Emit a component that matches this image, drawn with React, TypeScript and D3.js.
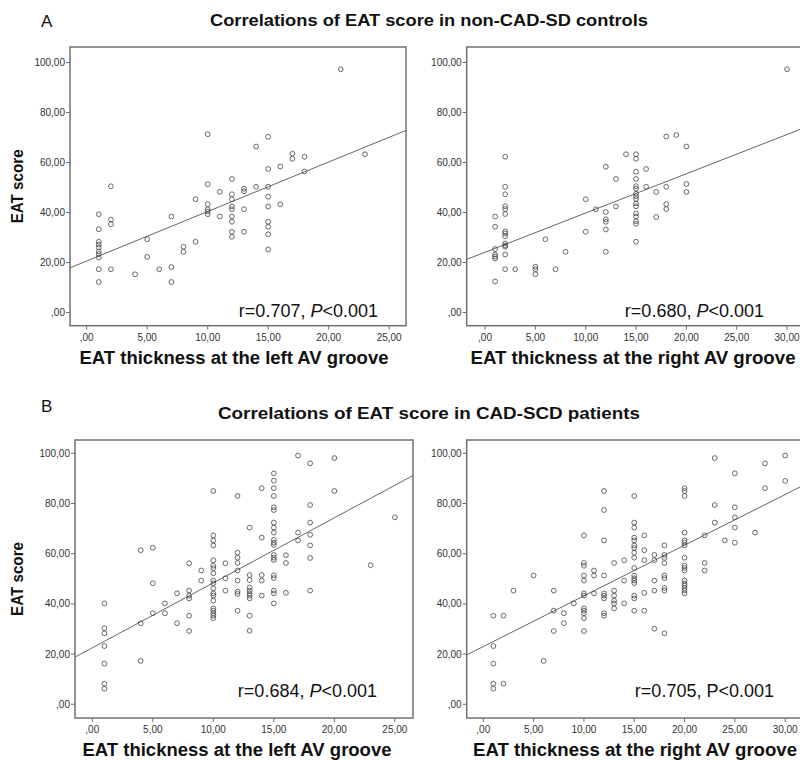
import React from 'react'
import * as d3 from 'd3'

// ticks shared by all four scatter panels
const yTicks = [0, 20, 40, 60, 80, 100]
const xTicksLeft = [0, 5, 10, 15, 20, 25]
const xTicksRight = [0, 5, 10, 15, 20, 25, 30]
const fmt = (v: number) => (v === 0 ? '' : String(v)) + ',00'

// [EAT thickness, EAT score]  -- non-CAD-SD controls, left AV groove
const ctrlLeft = [
  [1, 39.3], [1, 33.3], [1, 28.3], [1, 27.2], [1, 26], [1, 24.4], [1, 23.4], [1, 22], [1, 17.3], [1, 12.2],
  [2, 50.5], [2, 37.2], [2, 35.3], [2, 17.3],
  [4, 15.3], [5, 29.3], [5, 22.2], [6, 17.3], [7, 38.4], [7, 18.2], [7, 12.2], [8, 26.3], [8, 24.3], [9, 45.3], [9, 28.3],
  [10, 71.3], [10, 51.3], [10, 43.3], [10, 41.3], [10, 40.4], [10, 39.3], [11, 48.3], [11, 38.4],
  [12, 53.4], [12, 47.3], [12, 45.3], [12, 42.4], [12, 41.3], [12, 38.4], [12, 36.3], [12, 32.3], [12, 30.3],
  [13, 49.5], [13, 48.5], [13, 41.3], [13, 32.3], [14, 66.4], [14, 50.3],
  [15, 70.3], [15, 57.4], [15, 50.3], [15, 46.3], [15, 42.4], [15, 36.3], [15, 34.3], [15, 31.3], [15, 25.2],
  [16, 58.4], [16, 43.3], [17, 63.5], [17, 61.5], [18, 62.3], [18, 56.4], [21, 97.3], [23, 63.3]
]

// non-CAD-SD controls, right AV groove
const ctrlRight = [
  [1, 38.4], [1, 34.3], [1, 25.4], [1, 23.2], [1, 22.4], [1, 21.6], [1, 12.4],
  [2, 62.3], [2, 50.3], [2, 47.3], [2, 42.5], [2, 41.4], [2, 39.4], [2, 32.4], [2, 31.6], [2, 30.5], [2, 27.6],
  [2, 26.8], [2, 26.3], [2, 23.2], [2, 17.3],
  [3, 17.3], [5, 18.3], [5, 17.3], [5, 15.3], [6, 29.3], [7, 17.3], [8, 24.3], [10, 45.3], [10, 32.3], [11, 41.3],
  [12, 58.3], [12, 40.2], [12, 37.3], [12, 36.3], [12, 33.2], [12, 24.3], [13, 53.4], [13, 42.4], [14, 63.3],
  [15, 63.3], [15, 61.5], [15, 56.3], [15, 53.4], [15, 50.5], [15, 49.5], [15, 47.5], [15, 46.5], [15, 45.4],
  [15, 43.6], [15, 42.5], [15, 39.6], [15, 38.4], [15, 36.5], [15, 35.5], [15, 28.3],
  [16, 57.4], [16, 50.3], [17, 48.2], [17, 38.2], [18, 70.4], [18, 50.3], [18, 43.3], [18, 41.4], [19, 71.0],
  [20, 66.4], [20, 51.4], [20, 48.2], [30, 97.3]
]

// CAD-SCD patients, left AV groove
const patLeft = [
  [1, 40.2], [1, 30.3], [1, 28.3], [1, 23.2], [1, 16.2], [1, 8.2], [1, 6.2],
  [4, 61.4], [4, 32.3], [4, 17.3], [5, 62.4], [5, 48.2], [5, 36.3], [6, 40.2], [6, 36.3], [7, 44.2], [7, 32.3],
  [8, 56.2], [8, 45.3], [8, 43.3], [8, 42.2], [8, 35.3], [8, 29.2], [9, 53.3], [9, 49.3],
  [10, 85.0], [10, 67.3], [10, 65.3], [10, 63.3], [10, 57.4], [10, 55.2], [10, 54.2], [10, 52.2], [10, 49.3],
  [10, 48.2], [10, 46.2], [10, 44.2], [10, 43.3], [10, 41.3], [10, 38.2], [10, 37.3], [10, 36.3], [10, 35.3], [10, 34.3],
  [11, 56.2], [11, 50.2], [11, 45.3],
  [12, 83.0], [12, 60.4], [12, 58.4], [12, 56.3], [12, 53.3], [12, 49.3], [12, 44.9], [12, 44.0], [12, 37.3],
  [13, 70.4], [13, 51.5], [13, 49.5], [13, 46.5], [13, 45.3], [13, 44.2], [13, 43.3], [13, 42.2], [13, 35.3], [13, 29.3],
  [14, 86.1], [14, 66.4], [14, 51.5], [14, 49.3], [14, 43.3],
  [15, 92.0], [15, 89.1], [15, 86.1], [15, 83.0], [15, 78.5], [15, 77.4], [15, 72.4], [15, 70.4], [15, 68.4],
  [15, 65.5], [15, 64.4], [15, 63.5], [15, 59.5], [15, 58.4], [15, 57.5], [15, 51.4], [15, 50.3], [15, 45.3],
  [15, 44.2], [15, 40.2],
  [16, 59.4], [16, 56.3], [16, 44.4], [17, 99.1], [17, 68.4], [17, 65.3],
  [18, 96.0], [18, 79.4], [18, 72.4], [18, 67.5], [18, 63.3], [18, 58.3], [18, 45.3],
  [20, 98.1], [20, 85.0], [23, 55.4], [25, 74.5]
]

// CAD-SCD patients, right AV groove
const patRight = [
  [1, 35.3], [1, 23.2], [1, 16.2], [1, 8.2], [1, 6.2], [2, 35.3], [2, 8.2], [3, 45.3], [5, 51.3], [6, 17.3],
  [7, 45.3], [7, 37.3], [7, 29.2], [8, 36.3], [8, 32.3], [9, 40.2],
  [10, 67.3], [10, 56.3], [10, 55.2], [10, 51.3], [10, 49.3], [10, 44.2], [10, 43.3], [10, 38.2], [10, 37.3],
  [10, 36.3], [10, 34.3], [10, 29.2],
  [11, 53.3], [11, 51.3], [11, 44.2],
  [12, 85.0], [12, 77.4], [12, 65.3], [12, 51.3], [12, 44.2], [12, 43.3], [12, 42.2], [12, 36.3], [12, 35.3],
  [13, 56.3], [13, 45.3], [13, 43.3], [13, 41.3], [13, 40.2], [13, 38.2],
  [14, 57.4], [14, 49.3], [14, 40.2],
  [15, 83.0], [15, 72.4], [15, 70.4], [15, 66.4], [15, 65.3], [15, 63.3], [15, 62.3], [15, 60.4], [15, 58.4],
  [15, 54.3], [15, 51.3], [15, 50.2], [15, 49.3], [15, 48.3], [15, 43.3], [15, 42.2], [15, 37.3],
  [16, 67.3], [16, 61.4], [16, 57.4], [16, 44.4], [16, 37.3],
  [17, 59.5], [17, 57.4], [17, 49.3], [17, 45.3], [17, 30.1],
  [18, 63.3], [18, 59.5], [18, 58.4], [18, 56.3], [18, 51.3], [18, 50.3], [18, 46.3], [18, 45.3], [18, 28.3],
  [20, 86.1], [20, 85.0], [20, 83.0], [20, 68.4], [20, 65.3], [20, 64.4], [20, 63.3], [20, 58.4], [20, 55.2],
  [20, 54.3], [20, 53.3], [20, 49.3], [20, 48.2], [20, 47.3], [20, 46.3], [20, 45.3], [20, 44.2],
  [22, 67.3], [22, 56.3], [22, 53.3], [23, 98.1], [23, 79.4], [23, 72.4], [24, 65.3],
  [25, 92.0], [25, 78.5], [25, 74.5], [25, 70.4], [25, 64.4], [27, 68.4], [28, 96.0], [28, 86.1], [30, 99.1], [30, 89.0]
]

// fitted lines as [intercept, slope]
const fitCtrlLeft = [20.6, 1.98]
const fitCtrlRight = [24.1, 1.57]
const fitPatLeft = [22.5, 2.59]
const fitPatRight = [23.0, 2.02]

const stats = ['r=0.707', 'r=0.680', 'r=0.684', 'r=0.705']

const font = 'Liberation Sans, Arial, sans-serif'
const frameColor = '#707070'

function Panel (props: any) {
  const { box, xDomain, yDomain, xTicks, points, fit, stat, italicP, statX, statY, xLabel, xLabelX, xLabelW, yLabel } = props
  const x = d3.scaleLinear().domain(xDomain).range([box.left, box.right])
  const y = d3.scaleLinear().domain(yDomain).range([box.bottom, box.top])
  const line = d3.line<number>().x(d => x(d)).y(d => y(fit[0] + fit[1] * d))
  const clipId = 'clip' + Math.round(box.left) + '_' + Math.round(box.top)

  return (
    <g>
      <defs>
        <clipPath id={clipId}>
          <rect x={box.left} y={box.top} width={box.right - box.left} height={box.bottom - box.top} />
        </clipPath>
      </defs>
      <rect x={box.left} y={box.top} width={box.right - box.left} height={box.bottom - box.top}
        fill='#fff' stroke={frameColor} strokeWidth={1.5} />

      {yTicks.map(t => (
        <g key={'y' + t}>
          <line x1={box.left - 4} x2={box.left} y1={y(t)} y2={y(t)} stroke={frameColor} strokeWidth={1} />
          <text x={box.left - 5} y={y(t)} dy='0.35em' textAnchor='end' fontSize={10} fill='#333'
            fontFamily={font}>{fmt(t)}</text>
        </g>
      ))}
      {xTicks.map(t => (
        <g key={'x' + t}>
          <line x1={x(t)} x2={x(t)} y1={box.bottom} y2={box.bottom + 4} stroke={frameColor} strokeWidth={1} />
          <text x={x(t)} y={box.bottom + 15} textAnchor='middle' fontSize={10} fill='#333'
            fontFamily={font}>{fmt(t)}</text>
        </g>
      ))}

      <g clipPath={`url(#${clipId})`}>
        <path d={line(xDomain) || ''} fill='none' stroke='#666' strokeWidth={1} />
        {points.map((p: number[], i: number) => (
          <circle key={i} cx={x(p[0])} cy={y(p[1])} r={2.4} fill='none' stroke='#444' strokeWidth={0.8} />
        ))}
      </g>

      <text x={statX} y={statY} textAnchor='end' fontSize={18} fontFamily={font} fill='#111'>
        {stat + ', '}
        <tspan fontStyle={italicP ? 'italic' : 'normal'}>P</tspan>
        {'<0.001'}
      </text>

      <text x={xLabelX} y={box.bottom + 38} textAnchor='middle' fontSize={18} fontWeight='bold'
        fontFamily={font} fill='#111' textLength={xLabelW} lengthAdjust='spacingAndGlyphs'>{xLabel}</text>

      {yLabel && (
        <text transform={`translate(23,${(box.top + box.bottom) / 2}) rotate(-90)`} textAnchor='middle'
          fontSize={17} fontWeight='bold' fontFamily={font} fill='#111' textLength={74}
          lengthAdjust='spacingAndGlyphs'>{yLabel}</text>
      )}
    </g>
  )
}

export default function App () {
  const boxAL = { left: 70, right: 406, top: 47, bottom: 325.7 }
  const boxAR = { left: 466.7, right: 805, top: 47, bottom: 325.7 }
  const boxBL = { left: 75, right: 413, top: 440, bottom: 718 }
  const boxBR = { left: 466.7, right: 805, top: 440, bottom: 718 }
  const yDomA = [-5.28, 106.2]
  const yDomB = [-5.46, 105.3]

  return (
    <svg width={800} height={760} style={{ position: 'absolute', left: 0, top: 0, background: '#fff' }}>
      <rect width={800} height={760} fill='#fff' />

      <text x={41} y={27} fontSize={17} fontFamily={font} fill='#111'>A</text>
      <text x={429} y={26} textAnchor='middle' fontSize={16} fontWeight='bold' fontFamily={font} fill='#111'
        textLength={438} lengthAdjust='spacingAndGlyphs'>
        Correlations of EAT score in non-CAD-SD controls
      </text>
      <text x={41} y={412} fontSize={17} fontFamily={font} fill='#111'>B</text>
      <text x={429} y={419} textAnchor='middle' fontSize={16} fontWeight='bold' fontFamily={font} fill='#111'
        textLength={422} lengthAdjust='spacingAndGlyphs'>
        Correlations of EAT score in CAD-SCD patients
      </text>

      <Panel box={boxAL} xDomain={[-1.38, 26.39]} yDomain={yDomA} xTicks={xTicksLeft} points={ctrlLeft}
        fit={fitCtrlLeft} stat={stats[0]} italicP statX={378} statY={317}
        xLabel='EAT thickness at the left AV groove' xLabelX={234} xLabelW={309} yLabel='EAT score' />
      <Panel box={boxAR} xDomain={[-1.82, 31.78]} yDomain={yDomA} xTicks={xTicksRight} points={ctrlRight}
        fit={fitCtrlRight} stat={stats[1]} italicP statX={764} statY={317}
        xLabel='EAT thickness at the right AV groove' xLabelX={633} xLabelW={325} />
      <Panel box={boxBL} xDomain={[-1.43, 26.5]} yDomain={yDomB} xTicks={xTicksLeft} points={patLeft}
        fit={fitPatLeft} stat={stats[2]} italicP statX={377} statY={697}
        xLabel='EAT thickness at the left AV groove' xLabelX={237} xLabelW={309} yLabel='EAT score' />
      <Panel box={boxBR} xDomain={[-1.65, 31.97]} yDomain={yDomB} xTicks={xTicksRight} points={patRight}
        fit={fitPatRight} stat={stats[3]} italicP={false} statX={774} statY={697}
        xLabel='EAT thickness at the right AV groove' xLabelX={635} xLabelW={324} />
    </svg>
  )
}
